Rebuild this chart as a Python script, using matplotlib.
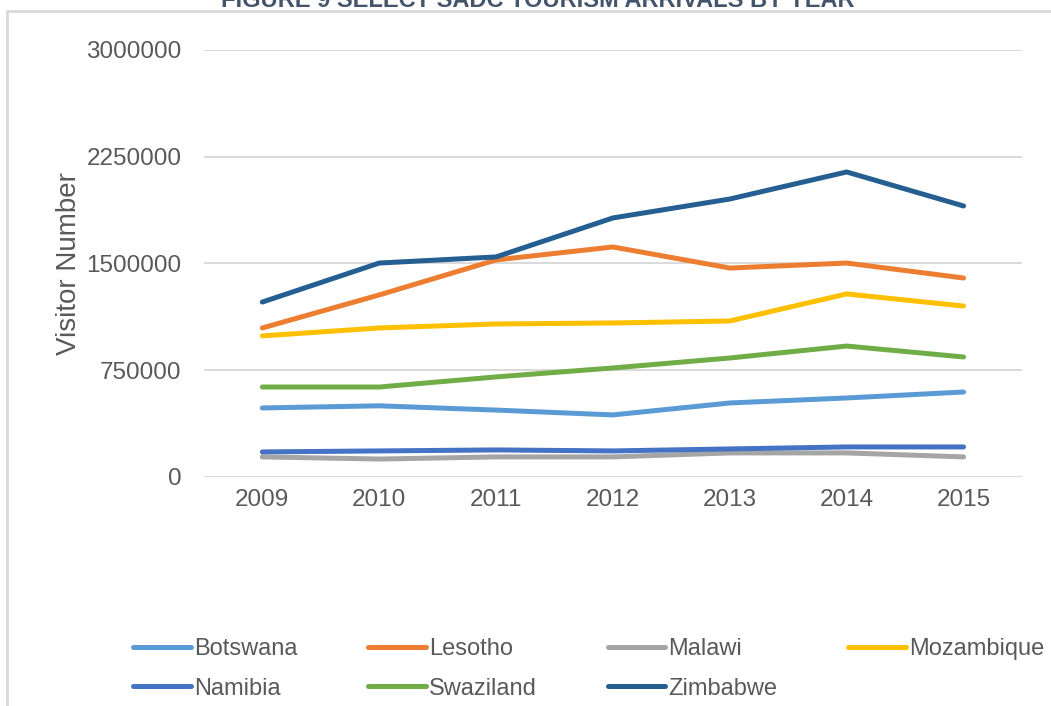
import matplotlib
matplotlib.use("Agg")
from matplotlib import pyplot as plt
from matplotlib.patches import Rectangle

plt.rcParams['font.family'] = ['Liberation Sans', 'DejaVu Sans']

years = ['2009', '2010', '2011', '2012', '2013', '2014', '2015']

botswana = [485000, 500000, 470000, 436000, 520000, 555000, 597000]
lesotho = [1047000, 1279000, 1525000, 1616000, 1468000, 1503000, 1398000]
malawi = [141000, 126000, 141000, 141000, 169000, 169000, 141000]
mozambique = [991000, 1047000, 1075000, 1082000, 1096000, 1286000, 1201000]
namibia = [176000, 183000, 190000, 183000, 197000, 211000, 211000]
swaziland = [632000, 632000, 703000, 766000, 836000, 920000, 843000]
zimbabwe = [1229000, 1503000, 1546000, 1820000, 1953000, 2143000, 1904000]

series = [
    ('Botswana', botswana, '#5B9BD5'),
    ('Lesotho', lesotho, '#ED7D31'),
    ('Malawi', malawi, '#A5A5A5'),
    ('Mozambique', mozambique, '#FFC000'),
    ('Namibia', namibia, '#4472C4'),
    ('Swaziland', swaziland, '#70AD47'),
    ('Zimbabwe', zimbabwe, '#255E91'),
]

txt = '#595959'

fig = plt.figure(figsize=(10.51, 7.06), dpi=100)
ax = fig.add_axes([0.194, 0.3244, 0.7784, 0.6048])

x = list(range(len(years)))
handles = []
for name, vals, col in series:
    ln, = ax.plot(x, vals, color=col, lw=3.6, label=name,
                  solid_capstyle='round', solid_joinstyle='round')
    handles.append(ln)

ax.set_xlim(-0.5, 6.5)
ax.set_ylim(0, 3000000)
ax.set_yticks([0, 750000, 1500000, 2250000, 3000000])
ax.set_yticklabels(['0', '750000', '1500000', '2250000', '3000000'])
ax.set_xticks(x)
ax.set_xticklabels(years)
ax.tick_params(axis='both', length=0, labelsize=17.5, labelcolor=txt)
ax.tick_params(axis='y', pad=16)
ax.tick_params(axis='x', pad=9)
ax.grid(axis='y', color='#D9D9D9', lw=1.4)
ax.set_axisbelow(True)
for s in ax.spines.values():
    s.set_visible(False)

ax.set_ylabel('Visitor Number', fontsize=20, color=txt, labelpad=3)

# chart box border (left and top edges visible)
box = Rectangle((7 / 1051, -0.1), 1.2, (706 - 11) / 706 + 0.1,
                transform=fig.transFigure, fill=False, ec='#D9D9D9', lw=2)
fig.patches.append(box)

fig.text(0.512, 0.990, 'FIGURE 9 SELECT SADC TOURISM ARRIVALS BY YEAR',
         ha='center', va='baseline', fontsize=17, fontweight='bold',
         color='#44546A')

# matplotlib fills legend columns first, so reorder to read row by row
order = [0, 4, 1, 5, 2, 6, 3]
leg = fig.legend([handles[i] for i in order], [series[i][0] for i in order],
                 loc='upper left', bbox_to_anchor=(0.118, 0.11), ncol=4,
                 frameon=False, fontsize=17, handlelength=2.42,
                 handletextpad=0.15, columnspacing=3.0, labelspacing=0.76,
                 borderaxespad=0)
for t in leg.get_texts():
    t.set_color(txt)

fig.savefig('out.png', dpi=100)
